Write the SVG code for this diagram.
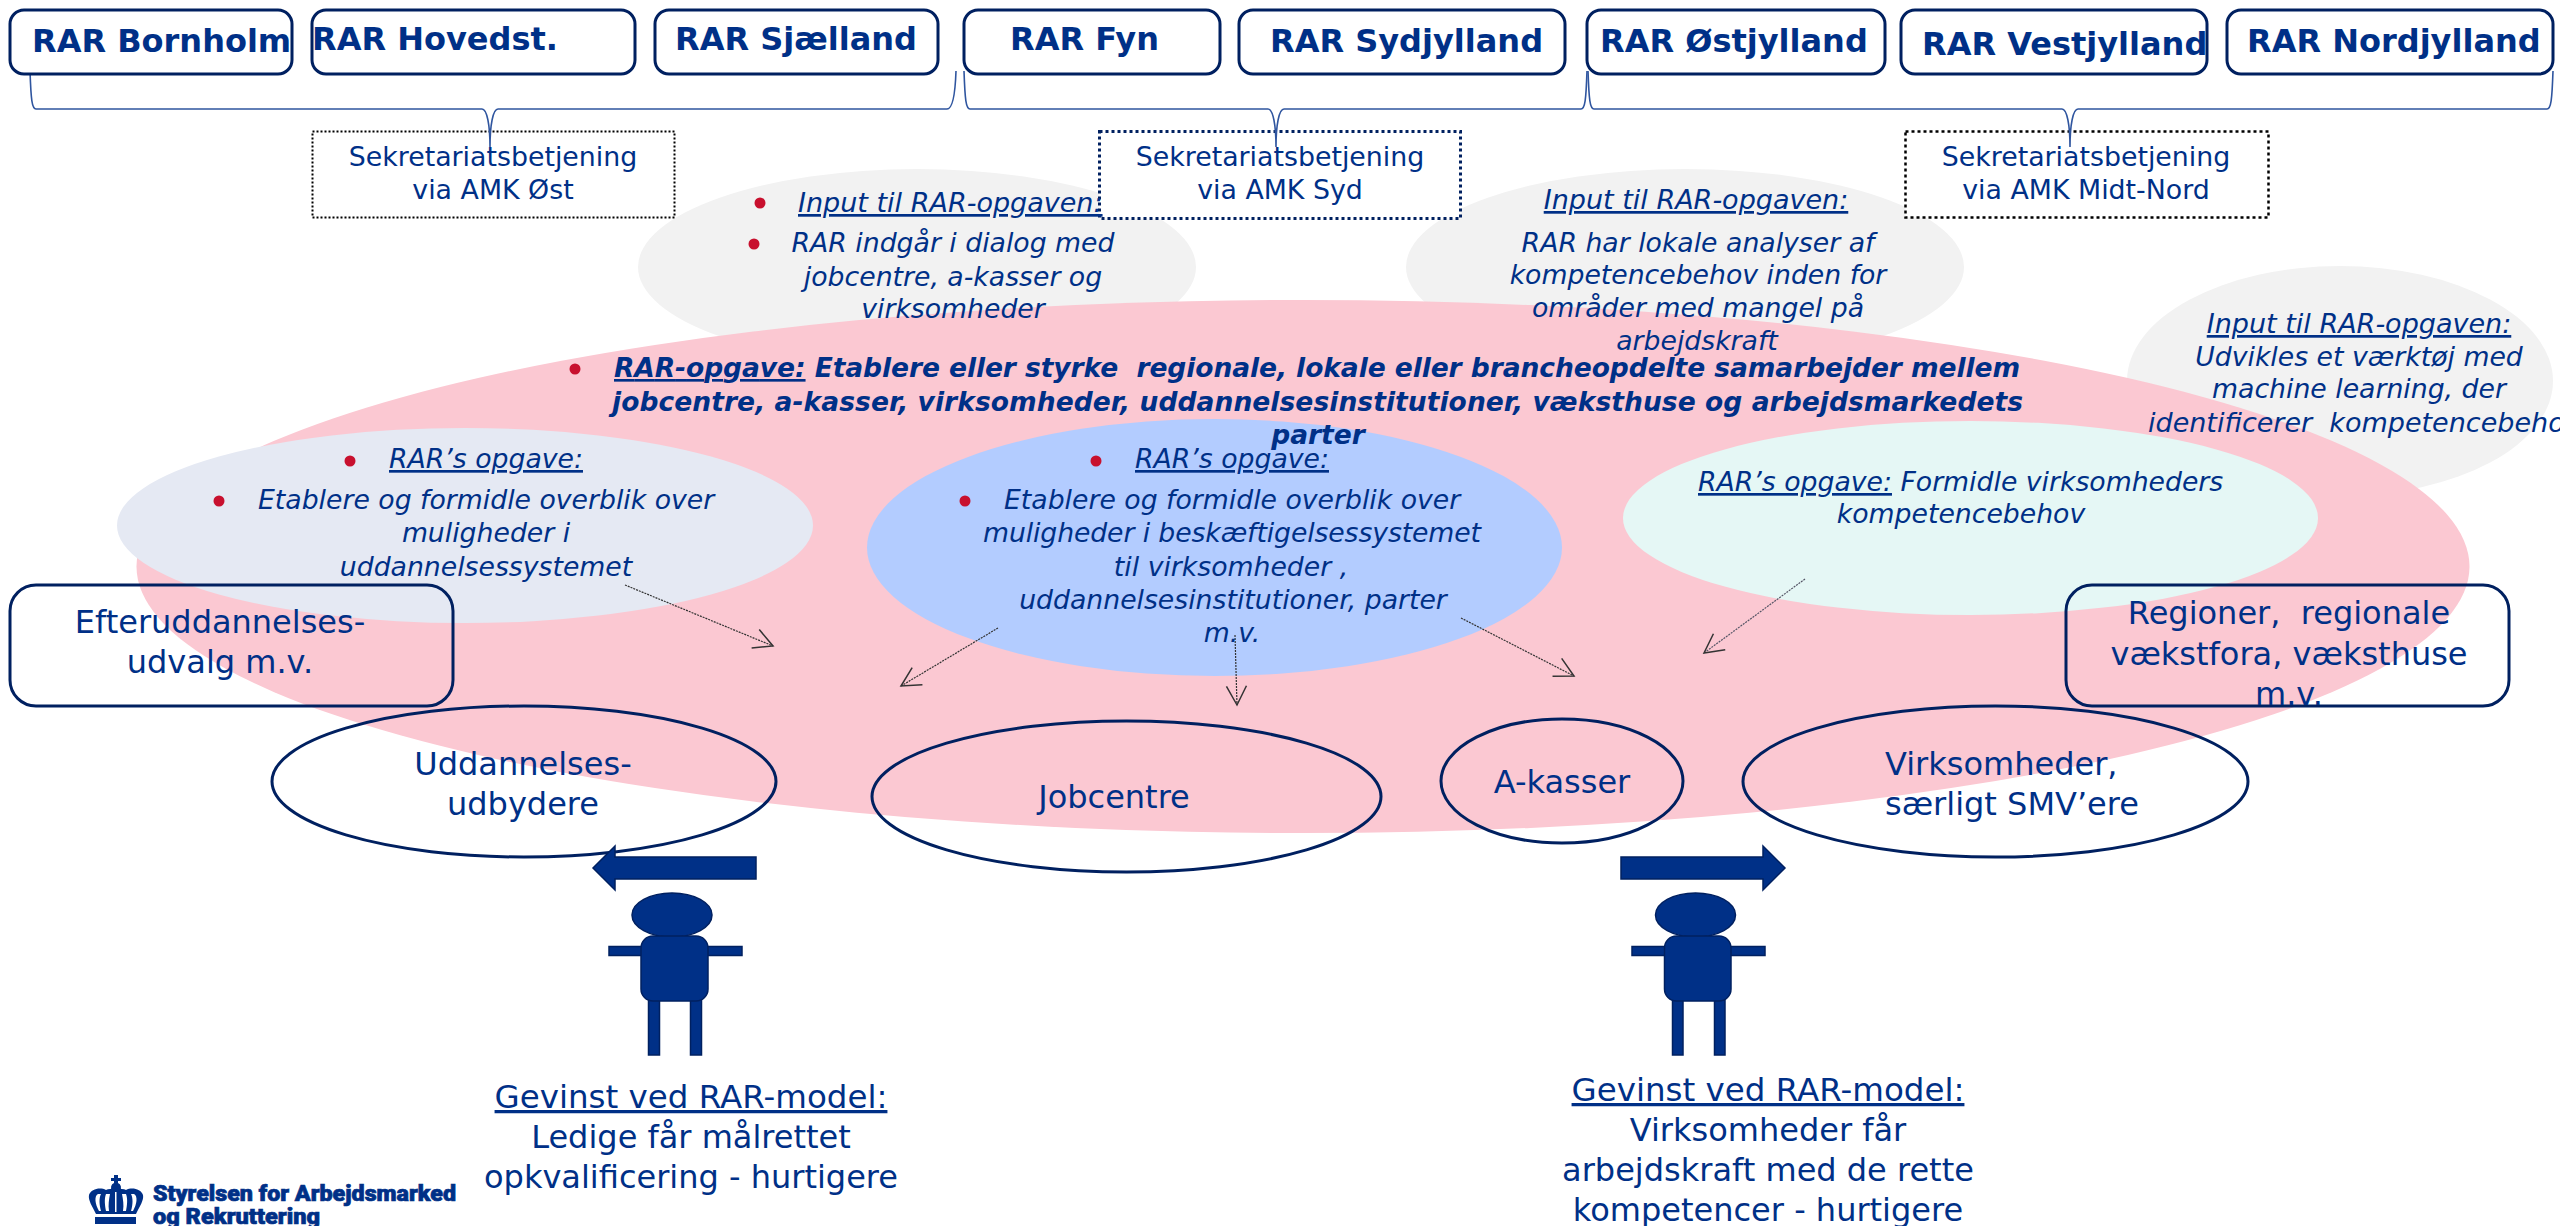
<svg xmlns="http://www.w3.org/2000/svg" width="2560" height="1226" viewBox="0 0 2560 1226">
<style>
text{font-family:"DejaVu Sans",Verdana,sans-serif;fill:#003087;white-space:pre}
.rar{font-size:32px;font-weight:700}
.sec{font-size:26.8px;text-anchor:middle}
.it{font-size:26.7px;font-style:italic;text-anchor:middle}
.its{font-size:26.7px;font-style:italic}
.inp{font-size:27px}
.bi{font-size:26.5px;font-style:italic;font-weight:700}
.lbl{font-size:32px;text-anchor:middle}
.head{font-size:32.5px}
.u{text-decoration:underline}
.box{fill:#fff;stroke:#002060;stroke-width:3}
.open{fill:none;stroke:#002060;stroke-width:3}
.bul{fill:#c8102e}
.brace{fill:none;stroke:#2f559f;stroke-width:1.6}
.thin{fill:none;stroke:#333;stroke-width:1.2;stroke-dasharray:2 1;marker-end:url(#oa)}
.navy{fill:#003087;stroke:#002060;stroke-width:1.5}
.logo{font-family:Roboto,sans-serif;font-size:22px;font-weight:900;stroke:#003087;stroke-width:.7}
</style>
<defs>
<marker id="oa" markerUnits="userSpaceOnUse" viewBox="-20 -12 22 24" refX="0" refY="0" markerWidth="22" markerHeight="24" orient="auto"><path d="M-19,-10 L0,0 L-19,10" fill="none" stroke="#333" stroke-width="1.5"/></marker>
</defs>

<g id="input-bg">
<ellipse cx="917" cy="267" rx="279" ry="98" fill="#f2f2f2"/>
<ellipse cx="1685" cy="267" rx="279" ry="98" fill="#f2f2f2"/>
<ellipse cx="2340" cy="381" rx="213" ry="115" fill="#f2f2f2"/>
</g>
<g id="rar-opgave-bg"><ellipse cx="1303" cy="566.5" rx="1166.5" ry="266.5" fill="#fbc8d2"/></g>

<g id="sek-ost"><rect x="312.5" y="131.5" width="362" height="86" fill="#fff" stroke="#000" stroke-width="2" stroke-dasharray="2 2"/>
<text class="sec" x="493" y="166">Sekretariatsbetjening</text><text class="sec" x="493" y="199">via AMK Øst</text></g>
<g id="sek-syd"><rect x="1099.5" y="131.5" width="361" height="87" fill="#fff" stroke="#002060" stroke-width="3" stroke-dasharray="3 3"/>
<text class="sec" x="1280" y="166">Sekretariatsbetjening</text><text class="sec" x="1280" y="199">via AMK Syd</text></g>
<g id="sek-midt"><rect x="1905.5" y="131.5" width="363" height="86" fill="#fff" stroke="#000" stroke-width="2.5" stroke-dasharray="3 3"/>
<text class="sec" x="2086" y="166">Sekretariatsbetjening</text><text class="sec" x="2086" y="199">via AMK Midt-Nord</text></g>

<g id="connectors-braces">
<path class="brace" d="M30 71C31 100 32 109 36 109H482C487 109 490 125 490 147C490 125 493 109 498 109H947C951 109 955 100 956 71"/>
<path class="brace" d="M964 71C965 100 966 109 970 109H1268C1273 109 1276 125 1276 147C1276 125 1279 109 1284 109H1581C1585 109 1586 100 1587 71"/>
<path class="brace" d="M1588 71C1589 100 1590 109 1594 109H2062C2067 109 2070 125 2070 147C2070 125 2073 109 2078 109H2547C2551 109 2552 100 2553 71"/>
</g>

<g id="rar-bornholm"><rect class="box" x="10" y="10" width="282" height="64" rx="14"/><text class="rar" x="32" y="52">RAR Bornholm</text></g>
<g id="rar-hovedst"><rect class="box" x="312" y="10" width="323" height="64" rx="14"/><text class="rar" x="312" y="50">RAR Hovedst.</text></g>
<g id="rar-sjaelland"><rect class="box" x="655" y="10" width="283" height="64" rx="14"/><text class="rar" x="675" y="50">RAR Sjælland</text></g>
<g id="rar-fyn"><rect class="box" x="964" y="10" width="256" height="64" rx="14"/><text class="rar" x="1010" y="50">RAR Fyn</text></g>
<g id="rar-sydjylland"><rect class="box" x="1239" y="10" width="326" height="64" rx="14"/><text class="rar" x="1270" y="52">RAR Sydjylland</text></g>
<g id="rar-ostjylland"><rect class="box" x="1587" y="10" width="298" height="64" rx="14"/><text class="rar" x="1600" y="52">RAR Østjylland</text></g>
<g id="rar-vestjylland"><rect class="box" x="1901" y="10" width="306" height="64" rx="14"/><text class="rar" x="1922" y="55">RAR Vestjylland</text></g>
<g id="rar-nordjylland"><rect class="box" x="2227" y="10" width="326" height="64" rx="14"/><text class="rar" x="2247" y="52">RAR Nordjylland</text></g>

<g id="input-1">
<circle class="bul" cx="760" cy="203" r="5.5"/><circle class="bul" cx="754" cy="244" r="5.5"/>
<text class="its inp" x="798" y="212"><tspan class="u">Input til RAR-opgaven:</tspan></text>
<text class="it" x="953" y="252">RAR indgår i dialog med</text>
<text class="it" x="953" y="286">jobcentre, a-kasser og</text>
<text class="it" x="953" y="318">virksomheder</text>
</g>
<g id="input-2">
<text class="it inp" x="1696" y="209"><tspan class="u">Input til RAR-opgaven:</tspan></text>
<text class="it" x="1698" y="252">RAR har lokale analyser af</text>
<text class="it" x="1698" y="284">kompetencebehov inden for</text>
<text class="it" x="1698" y="317">områder med mangel på</text>
<text class="it" x="1697" y="350">arbejdskraft</text>
</g>
<g id="input-3">
<text class="it inp" x="2359" y="333"><tspan class="u">Input til RAR-opgaven:</tspan></text>
<text class="it" x="2359" y="366">Udvikles et værktøj med</text>
<text class="it" x="2359" y="398">machine learning, der</text>
<text class="its inp" x="2148" y="432">identificerer  kompetencebehov</text>
</g>

<g id="uddannelse-bg"><ellipse cx="465" cy="525.5" rx="348" ry="97.5" fill="#e5e9f3"/></g>
<g id="beskaeftigelse-bg"><ellipse cx="1214.5" cy="547.5" rx="347.5" ry="128.5" fill="#b3ccff"/></g>
<g id="virksomhed-bg"><ellipse cx="1970.5" cy="518" rx="347.5" ry="97" fill="#e5f7f5"/></g>

<g id="connectors">
<path class="thin" d="M625 585L773 646"/>
<path class="thin" d="M998 628L901 686"/>
<path class="thin" d="M1235 635L1237 705"/>
<path class="thin" d="M1461 618L1574 676"/>
<path class="thin" d="M1805 579L1704 653" style="stroke:#556"/>
</g>

<g id="rar-opgave">
<circle class="bul" cx="575" cy="369" r="5.5"/>
<text class="bi" x="614" y="377" textLength="1406"><tspan class="u">RAR-opgave:</tspan> Etablere eller styrke  regionale, lokale eller brancheopdelte samarbejder mellem</text>
<text class="bi" x="612" y="411" textLength="1411">jobcentre, a-kasser, virksomheder, uddannelsesinstitutioner, væksthuse og arbejdsmarkedets</text>
<text class="bi" x="1318" y="444" text-anchor="middle">parter</text>
</g>

<g id="opgave-uddannelse">
<circle class="bul" cx="350" cy="461" r="5.5"/><circle class="bul" cx="219" cy="501" r="5.5"/>
<text class="its" x="389" y="468"><tspan class="u">RAR’s opgave:</tspan></text>
<text class="its" x="258" y="509">Etablere og formidle overblik over</text>
<text class="it" x="486" y="542">muligheder i</text>
<text class="it" x="486" y="576">uddannelsessystemet</text>
</g>
<g id="opgave-beskaeftigelse">
<circle class="bul" cx="1096" cy="461" r="5.5"/><circle class="bul" cx="965" cy="501" r="5.5"/>
<text class="its" x="1135" y="468"><tspan class="u">RAR’s opgave:</tspan></text>
<text class="its" x="1004" y="509">Etablere og formidle overblik over</text>
<text class="it" x="1232" y="542" textLength="498">muligheder i beskæftigelsessystemet</text>
<text class="it" x="1231" y="576">til virksomheder ,</text>
<text class="it" x="1233" y="609">uddannelsesinstitutioner, parter</text>
<text class="it" x="1232" y="642">m.v.</text>
</g>
<g id="opgave-virksomhed">
<text class="its" x="1698" y="491"><tspan class="u">RAR’s opgave:</tspan> Formidle virksomheders</text>
<text class="it" x="1961" y="523">kompetencebehov</text>
</g>

<g id="efteruddannelse"><rect class="open" x="10" y="585" width="443" height="121" rx="26"/>
<text class="lbl" x="220" y="633">Efteruddannelses-</text><text class="lbl" x="220" y="673">udvalg m.v.</text></g>
<g id="regioner"><rect class="open" x="2066" y="585" width="443" height="121" rx="26"/>
<text class="lbl" x="2289" y="624">Regioner,  regionale</text><text class="lbl" x="2289" y="665">vækstfora, væksthuse</text><text class="lbl" x="2289" y="705">m.v.</text></g>

<g id="uddannelsesudbydere"><ellipse class="open" cx="524" cy="781.5" rx="252" ry="75.5"/>
<text class="lbl" x="523" y="775">Uddannelses-</text><text class="lbl" x="523" y="815">udbydere</text></g>
<g id="jobcentre"><ellipse class="open" cx="1126.5" cy="796.5" rx="254.5" ry="75.5"/>
<text class="lbl" x="1114" y="808">Jobcentre</text></g>
<g id="a-kasser"><ellipse class="open" cx="1562" cy="781" rx="121" ry="62"/>
<text class="lbl" x="1562" y="793">A-kasser</text></g>
<g id="virksomheder"><ellipse class="open" cx="1995.5" cy="781.5" rx="252.5" ry="75.5"/>
<text class="lbl" style="text-anchor:start" x="1885" y="775">Virksomheder,</text><text class="lbl" style="text-anchor:start" x="1885" y="815">særligt SMV’ere</text></g>

<g id="pil-venstre"><path class="navy" d="M756 857H615V846L593 868L615 890V879H756Z"/></g>
<g id="pil-hoejre"><path class="navy" d="M1621 857H1763V846L1785 868L1763 890V879H1621Z"/></g>

<g id="person-ledig">
<ellipse class="navy" cx="672" cy="915" rx="40" ry="22"/>
<rect class="navy" x="609" y="946.5" width="133" height="9"/>
<rect class="navy" x="648.5" y="1000" width="11" height="55"/><rect class="navy" x="690.5" y="1000" width="11" height="55"/>
<rect class="navy" x="641" y="936" width="67" height="65" rx="12"/>
</g>
<g id="person-virksomhed">
<ellipse class="navy" cx="1695.5" cy="915" rx="40" ry="22"/>
<rect class="navy" x="1632" y="946.5" width="133" height="9"/>
<rect class="navy" x="1672.5" y="1000" width="10.5" height="55"/><rect class="navy" x="1714.5" y="1000" width="10.5" height="55"/>
<rect class="navy" x="1664.5" y="936" width="66.5" height="65" rx="12"/>
</g>

<g id="gevinst-ledige">
<text class="lbl head" x="691" y="1108"><tspan class="u">Gevinst ved RAR-model:</tspan></text>
<text class="lbl" x="691" y="1148">Ledige får målrettet</text>
<text class="lbl" x="691" y="1188">opkvalificering - hurtigere</text>
</g>
<g id="gevinst-virksomheder">
<text class="lbl head" x="1768" y="1101"><tspan class="u">Gevinst ved RAR-model:</tspan></text>
<text class="lbl" x="1768" y="1141">Virksomheder får</text>
<text class="lbl" x="1768" y="1181">arbejdskraft med de rette</text>
<text class="lbl" x="1768" y="1221">kompetencer - hurtigere</text>
</g>

<g id="logo">
<path fill="#003087" d="M114 1175h4v3h3v3h-3v2a5 5 0 1 1-4 0v-2h-3v-3h3z"/>
<path fill="#003087" d="M96 1214C92 1206 88 1200 89 1195C91 1189 100 1187 106 1190C110 1188 122 1188 126 1190C132 1187 141 1189 143 1195C144 1200 140 1206 136 1214Z"/>
<path fill="#fff" d="M98 1194C94 1196 95 1204 99 1211H101C99 1204 99 1198 101 1194ZM106 1194C104 1199 105 1206 106 1211H109C108 1205 109 1199 110 1194ZM122 1194C123 1199 124 1205 123 1211H126C127 1206 128 1199 126 1194ZM131 1194C133 1198 133 1204 131 1211H133C137 1204 138 1196 134 1194ZM115 1192h1.500v20h-1.500z"/>
<rect x="95" y="1217" width="41" height="7" fill="#003087"/>
<text class="logo" x="153" y="1201" textLength="303" lengthAdjust="spacingAndGlyphs">Styrelsen for Arbejdsmarked</text>
<text class="logo" x="153" y="1224" textLength="167" lengthAdjust="spacingAndGlyphs">og Rekruttering</text>
</g>
</svg>
